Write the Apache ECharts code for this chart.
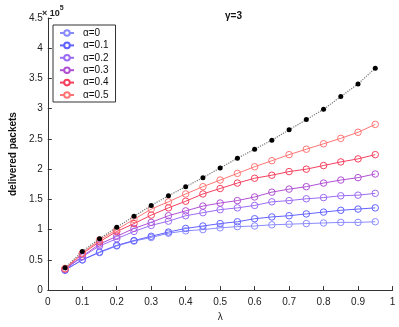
<!DOCTYPE html>
<html><head><meta charset="utf-8">
<script src="https://cdn.jsdelivr.net/npm/echarts@6/dist/echarts.min.js"></script>
<style>html,body{margin:0;padding:0;background:#fff}#c{width:399px;height:327px}</style>
</head><body><div id="c"></div>
<script>
var lambdas = [0.05,0.1,0.15,0.2,0.25,0.3,0.35,0.4,0.45,0.5,0.55,0.6,0.65,0.7,0.75,0.8,0.85,0.9,0.95];
var a0  = [0.33,0.50,0.62,0.73,0.81,0.87,0.94,0.98,1.00,1.03,1.05,1.06,1.08,1.09,1.10,1.11,1.12,1.12,1.13];
var a01 = [0.33,0.50,0.63,0.74,0.82,0.89,0.96,1.02,1.06,1.10,1.13,1.18,1.21,1.23,1.26,1.29,1.32,1.34,1.36];
var a02 = [0.34,0.55,0.73,0.85,0.97,1.07,1.14,1.23,1.28,1.33,1.36,1.40,1.46,1.48,1.51,1.53,1.56,1.57,1.60];
var a03 = [0.35,0.56,0.76,0.89,1.02,1.12,1.23,1.31,1.39,1.44,1.48,1.54,1.62,1.67,1.71,1.77,1.82,1.86,1.92];
var a04 = [0.35,0.60,0.80,0.97,1.10,1.24,1.36,1.47,1.59,1.68,1.77,1.85,1.90,1.96,2.00,2.06,2.12,2.17,2.24];
var a05 = [0.36,0.61,0.83,1.00,1.17,1.34,1.46,1.59,1.71,1.82,1.93,2.04,2.14,2.24,2.33,2.42,2.51,2.61,2.74];
var upper = [0.37,0.64,0.85,1.04,1.22,1.40,1.56,1.71,1.86,2.02,2.18,2.33,2.48,2.65,2.82,2.99,3.20,3.41,3.67];
var names = ['\u03b1=0','\u03b1=0.1','\u03b1=0.2','\u03b1=0.3','\u03b1=0.4','\u03b1=0.5'];
var colors = ['#8a8aff','#6262ff','#9c6cf4','#b050d4','#f5405e','#ff7474'];
var yTicks = ['0','0.5','1','1.5','2','2.5','3','3.5','4','4.5'];
var sets = [a0,a01,a02,a03,a04,a05];

function pairs(v){ return lambdas.map(function(x,i){return [x,v[i]];}); }
var series = sets.map(function(v,i){
  return {name:names[i], type:'line', data:pairs(v), symbol:'circle', symbolSize:6.5,
    itemStyle:{color:'rgba(255,255,255,0)', borderColor:colors[i], borderWidth:1},
    lineStyle:{color:colors[i], width:1}, z:2};
});
series.push({name:'upper', type:'line', data:pairs(upper), symbol:'circle', symbolSize:5,
  itemStyle:{color:'#000'}, lineStyle:{color:'#777', width:1.2, type:'dotted'}, z:3});

var chart = echarts.init(document.getElementById('c'), null, {renderer:'canvas'});
var axisText = {color:'#222', fontSize:10, fontFamily:'Liberation Sans, Arial, sans-serif'};
chart.setOption({
  animation:false,
  textStyle:{fontFamily:'Liberation Sans, Arial, sans-serif'},
  grid:{left:37, right:6.5, top:18, bottom:29.7, containLabel:false},
  title:[
    {text:'\u03b3=3', left:220, top:6, textStyle:{fontSize:10, fontWeight:'bold', color:'#111', fontFamily:'Liberation Sans, Arial, sans-serif'}},
    {text:'{a|\u00d7 10}{b|5}', left:37, top:0, textStyle:{rich:{a:{fontSize:9,color:'#222',padding:[4,0,0,0]},b:{fontSize:7,color:'#222',verticalAlign:'top',padding:[0,0,6,0]}}}}
  ],
  legend:{data:names, orient:'vertical', left:53, top:25, itemWidth:14, itemHeight:7, itemGap:2.4,
    padding:[3,7,2,6], borderColor:'#333', borderWidth:1, backgroundColor:'#fff',
    itemStyle:{color:'#fff'},
    textStyle:{fontSize:10, color:'#111', lineHeight:10, padding:[0,0,0,4]}},
  xAxis:{type:'value', min:0, max:1, interval:0.1, name:'\u03bb', nameLocation:'middle', nameGap:19,
    nameTextStyle:{fontSize:10, color:'#222'},
    axisLine:{lineStyle:{color:'#333', width:1}}, axisTick:{inside:true, length:4, lineStyle:{color:'#333'}},
    axisLabel:Object.assign({margin:7, formatter:function(v){return String(+v.toFixed(1));}}, axisText), splitLine:{show:false}},
  yAxis:{type:'value', min:0, max:4.5, interval:0.5, name:'delivered packets', nameLocation:'middle', nameGap:24,
    nameTextStyle:{fontSize:10, fontWeight:'bold', color:'#111'},
    axisLine:{show:true, lineStyle:{color:'#333', width:1}}, axisTick:{show:true, inside:true, length:4, lineStyle:{color:'#333'}},
    axisLabel:Object.assign({margin:5, formatter:function(v){ var i=Math.round(v*2); return yTicks[i]; }}, axisText), splitLine:{show:false}},
  series:series
});
</script></body></html>
